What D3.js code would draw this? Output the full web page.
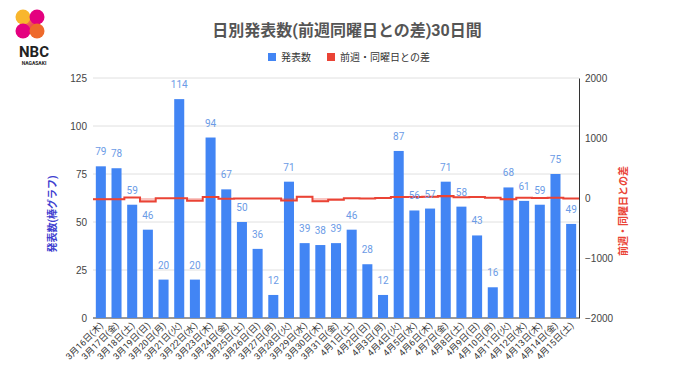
<!DOCTYPE html>
<html>
<head>
<meta charset="utf-8">
<script src="https://cdn.jsdelivr.net/npm/d3@7"></script>
<style>
  body { margin: 0; background: #fff; }
  svg { font-family: Roboto, "Noto Sans CJK JP", sans-serif; }
</style>
</head>
<body>
<svg width="680" height="382"></svg>
<script>
let dates = ['3月16日(木)','3月17日(金)','3月18日(土)','3月19日(日)','3月20日(月)','3月21日(火)','3月22日(水)',
  '3月23日(木)','3月24日(金)','3月25日(土)','3月26日(日)','3月27日(月)','3月28日(火)','3月29日(水)',
  '3月30日(木)','3月31日(金)','4月1日(土)','4月2日(日)','4月3日(月)','4月4日(火)','4月5日(水)',
  '4月6日(木)','4月7日(金)','4月8日(土)','4月9日(日)','4月10日(月)','4月11日(火)','4月12日(水)',
  '4月13日(木)','4月14日(金)','4月15日(土)']
let counts = [79,78,59,46,20,114,20,94,67,50,36,12,71,39,38,39,46,28,12,87,56,57,71,58,43,16,68,61,59,75,49]
let diffs = [-20,-20,10,-60,-5,-5,-45,15,-11,-9,-10,-8,-43,19,-56,-28,-4,-8,0,16,17,19,32,12,15,4,-19,5,2,4,-9]
let leftTicks = [0,25,50,75,100,125]
let rightTicks = [-2000,-1000,0,1000,2000]

let blue = '#4285f4'
let red = '#ea4335'

let plotLeft = 93, plotRight = 579, plotTop = 78, plotBottom = 318

let svg = d3.select('svg')

let x = d3.scaleBand().domain(dates).range([plotLeft, plotRight]).paddingInner(0.36).paddingOuter(0.18)
let y = d3.scaleLinear().domain([0, 125]).range([plotBottom, plotTop])
let y2 = d3.scaleLinear().domain([-2000, 2000]).range([plotBottom, plotTop])

// gridlines
svg.append('g')
  .selectAll('line')
  .data(leftTicks)
  .enter()
  .append('line')
  .attr('x1', plotLeft).attr('x2', plotRight)
  .attr('y1', d => y(d)).attr('y2', d => y(d))
  .attr('stroke', d => d === 0 ? '#333' : '#e0e0e0')
  .attr('stroke-width', 1)

// left axis
let yAxis = d3.axisLeft(y).tickValues(leftTicks).tickSize(0).tickPadding(6)
svg.append('g')
  .attr('transform', 'translate(' + plotLeft + ',0)')
  .call(yAxis)
  .call(g => g.select('.domain').remove())
  .selectAll('text')
  .style('font-size', '10px')
  .attr('fill', '#444')

// right axis
let y2Axis = d3.axisRight(y2).tickValues(rightTicks).tickFormat(d3.format('d')).tickSize(0).tickPadding(6)
svg.append('g')
  .attr('transform', 'translate(' + plotRight + ',0)')
  .call(y2Axis)
  .call(g => g.select('.domain').attr('stroke', '#333'))
  .selectAll('text')
  .style('font-size', '10px')
  .attr('fill', '#444')

// bars
svg.selectAll('rect.bar')
  .data(counts)
  .enter()
  .append('rect')
  .attr('class', 'bar')
  .attr('x', (d, i) => x(dates[i]))
  .attr('width', x.bandwidth())
  .attr('y', d => y(d))
  .attr('height', d => y(0) - y(d))
  .attr('fill', blue)

// stepped area for differences
let gap = x.step() - x.bandwidth()
let stepPts = diffs.map((d, i) => [x(dates[i]) - gap / 2, d])
stepPts.push([plotRight, diffs[diffs.length - 1]])

let area = d3.area()
  .x(d => d[0])
  .y0(y2(0))
  .y1(d => y2(d[1]))
  .curve(d3.curveStepAfter)
let line = d3.line()
  .x(d => d[0])
  .y(d => y2(d[1]))
  .curve(d3.curveStepAfter)

svg.append('path')
  .attr('d', area(stepPts))
  .attr('fill', red)
  .attr('fill-opacity', 0.3)
svg.append('path')
  .attr('d', line(stepPts))
  .attr('fill', 'none')
  .attr('stroke', red)
  .attr('stroke-width', 2)

// bar labels
svg.selectAll('text.val')
  .data(counts)
  .enter()
  .append('text')
  .attr('class', 'val')
  .attr('x', (d, i) => x(dates[i]) + x.bandwidth() / 2)
  .attr('y', d => y(d) - 11)
  .attr('text-anchor', 'middle')
  .style('font-size', '10px')
  .attr('fill', '#6b9be6')
  .text(d => d)

// x labels
svg.append('g')
  .selectAll('text')
  .data(dates)
  .enter()
  .append('text')
  .attr('transform', d => 'translate(' + (x(d) + x.bandwidth() / 2 + 3) + ',' + (plotBottom + 8) + ') rotate(-45)')
  .attr('text-anchor', 'end')
  .style('font-size', '9px')
  .attr('fill', '#333')
  .text(d => d)

// axis titles
svg.append('text')
  .attr('transform', 'translate(56,214) rotate(-90)')
  .attr('text-anchor', 'middle')
  .style('font-size', '10px')
  .style('font-weight', 'bold')
  .attr('fill', '#4040d0')
  .text('発表数(棒グラフ)')

svg.append('text')
  .attr('transform', 'translate(627,211) rotate(-90)')
  .attr('text-anchor', 'middle')
  .style('font-size', '10px')
  .style('font-weight', 'bold')
  .attr('fill', red)
  .text('前週・同曜日との差')

// title
svg.append('text')
  .attr('x', 347)
  .attr('y', 36)
  .attr('text-anchor', 'middle')
  .style('font-size', '16px')
  .style('font-weight', 'bold')
  .attr('fill', '#555')
  .text('日別発表数(前週同曜日との差)30日間')

// legend
let legend = svg.append('g').attr('transform', 'translate(268,57)')
legend.append('rect').attr('x', 0).attr('y', -4).attr('width', 8).attr('height', 8).attr('fill', blue)
legend.append('text').attr('x', 13).attr('y', 4).style('font-size', '10px').attr('fill', '#333').text('発表数')
legend.append('rect').attr('x', 59).attr('y', -4).attr('width', 8).attr('height', 8).attr('fill', red)
legend.append('text').attr('x', 72).attr('y', 4).style('font-size', '10px').attr('fill', '#333').text('前週・同曜日との差')

// logo
let logo = svg.append('g')
let grad = svg.append('defs').append('linearGradient').attr('id', 'lg').attr('x1', 0).attr('y1', 0).attr('x2', 1).attr('y2', 1)
grad.append('stop').attr('offset', 0).attr('stop-color', '#f7b52c')
grad.append('stop').attr('offset', 1).attr('stop-color', '#e5007a')
logo.append('rect').attr('x', 23).attr('y', 17).attr('width', 14).attr('height', 14).attr('fill', 'url(#lg)')
logo.append('circle').attr('cx', 23).attr('cy', 17).attr('r', 7.5).attr('fill', '#f8b62d')
logo.append('circle').attr('cx', 37).attr('cy', 17).attr('r', 7.5).attr('fill', '#e4007f')
logo.append('circle').attr('cx', 23).attr('cy', 31).attr('r', 7.5).attr('fill', '#e4007f')
logo.append('circle').attr('cx', 37).attr('cy', 31).attr('r', 7.5).attr('fill', '#ee6a2b')
logo.append('text').attr('x', 34).attr('y', 57).attr('text-anchor', 'middle')
  .style('font-size', '15px').style('font-weight', 'bold').attr('fill', '#222').text('NBC')
logo.append('text').attr('x', 34).attr('y', 65).attr('text-anchor', 'middle')
  .style('font-size', '5px').style('font-weight', 'bold').attr('fill', '#222').text('NAGASAKI')
</script>
</body>
</html>
